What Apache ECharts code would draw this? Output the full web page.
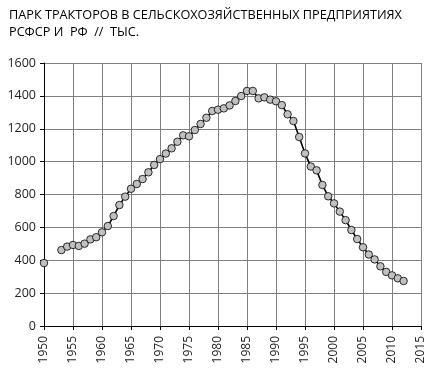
<!DOCTYPE html>
<html>
<head>
<meta charset="utf-8">
<script src="https://cdn.jsdelivr.net/npm/echarts@6/dist/echarts.min.js"></script>
<style>
  html, body { margin: 0; padding: 0; background: #fff; }
  #chart { width: 440px; height: 377px; }
</style>
</head>
<body>
<div id="chart"></div>
<script>
// годы и парк тракторов, тыс.
const years = [1950, 1951, 1952, 1953, 1954, 1955, 1956, 1957, 1958, 1959,
  1960, 1961, 1962, 1963, 1964, 1965, 1966, 1967, 1968, 1969,
  1970, 1971, 1972, 1973, 1974, 1975, 1976, 1977, 1978, 1979,
  1980, 1981, 1982, 1983, 1984, 1985, 1986, 1987, 1988, 1989,
  1990, 1991, 1992, 1993, 1994, 1995, 1996, 1997, 1998, 1999,
  2000, 2001, 2002, 2003, 2004, 2005, 2006, 2007, 2008, 2009,
  2010, 2011, 2012]
const tractors = [383, null, null, 462, 483, 493, 487, 501, 527, 540,
  570, 608, 669, 736, 787, 835, 864, 894, 935, 980,
  1015, 1049, 1081, 1121, 1160, 1154, 1192, 1229, 1267, 1308,
  1316, 1324, 1342, 1369, 1399, 1430, 1430, 1385, 1391, 1377,
  1367, 1344, 1288, 1247, 1150, 1050, 970, 947, 858, 789,
  746, 696, 644, 584, 529, 479, 435, 405, 363, 329,
  308, 290, 274]
const titleLines = ['ПАРК ТРАКТОРОВ В СЕЛЬСКОХОЗЯЙСТВЕННЫХ ПРЕДПРИЯТИЯХ', 'РСФСР И  РФ  //  ТЫС.']

const myChart = echarts.init(document.getElementById('chart'))
const seriesData = years.map((y, i) => [y, tractors[i]])

const option = {
  animation: false,
  title: {
    text: titleLines.join('\n'),
    left: 4,
    top: 2,
    textStyle: {
      fontFamily: 'Open Sans',
      fontSize: 12.7,
      fontWeight: 'normal',
      color: '#000',
      lineHeight: 17
    }
  },
  grid: {
    left: 44,
    right: 19,
    top: 63,
    bottom: 51
  },
  xAxis: {
    type: 'value',
    min: 1950,
    max: 2015,
    interval: 5,
    axisLine: { show: true, onZero: false, lineStyle: { color: '#000', width: 1 } },
    axisTick: { show: true, inside: false, length: 4, lineStyle: { color: '#000' } },
    axisLabel: {
      rotate: 90,
      margin: 10,
      fontFamily: 'Open Sans',
      fontSize: 12,
      color: '#222',
      formatter: (v) => String(v)
    },
    splitLine: { show: true, lineStyle: { color: '#808080', width: 1 } }
  },
  yAxis: {
    type: 'value',
    min: 0,
    max: 1600,
    interval: 200,
    axisLine: { show: true, lineStyle: { color: '#000', width: 1 } },
    axisTick: { show: true, length: 4, lineStyle: { color: '#000' } },
    axisLabel: {
      margin: 8,
      fontFamily: 'Open Sans',
      fontSize: 12.5,
      color: '#222',
      formatter: (v) => String(v)
    },
    splitLine: { show: true, lineStyle: { color: '#808080', width: 1 } }
  },
  series: [
    {
      type: 'line',
      data: seriesData,
      connectNulls: false,
      showAllSymbol: true,
      symbol: 'circle',
      symbolSize: 7.5,
      itemStyle: {
        color: '#c0c0c0',
        borderColor: '#000',
        borderWidth: 0.8
      },
      lineStyle: {
        color: '#000',
        width: 1.6
      }
    }
  ]
}
myChart.setOption(option)
</script>
</body>
</html>
